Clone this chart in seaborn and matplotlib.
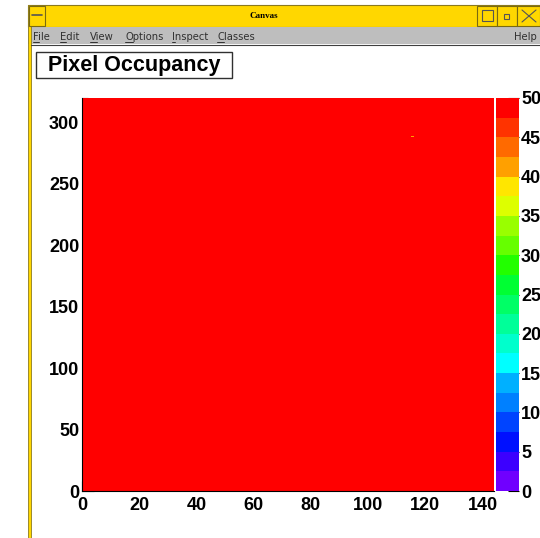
import matplotlib
matplotlib.use("Agg")
import matplotlib.pyplot as plt
import matplotlib.ticker as mticker
from matplotlib.colors import ListedColormap
from matplotlib.patches import Rectangle
from matplotlib.lines import Line2D
import numpy as np
import pandas as pd
import seaborn as sns

W, H = 540, 538

# detector geometry and occupancy
n_cols = 144
n_rows = 320
base_occupancy = 50.0
hot_col, hot_row, hot_value = 115, 288, 41.0

x_ticks = [0, 20, 40, 60, 80, 100, 120, 140]
y_ticks = [0, 50, 100, 150, 200, 250, 300]
z_ticks = [0, 5, 10, 15, 20, 25, 30, 35, 40, 45, 50]

# 20-step rainbow palette (ROOT style), bottom -> top
palette = [
    "#7000ff", "#3c00ff", "#0010ff", "#0044ff", "#0080ff",
    "#00b0ff", "#00ffff", "#00ffcc", "#00ff99", "#00ff66",
    "#00ff33", "#22ff00", "#66ff00", "#99ff00", "#ddff00",
    "#ffe600", "#ffa000", "#ff6a00", "#ff3300", "#ff0000",
]
menu_items = ["File", "Edit", "View", "Options", "Inspect", "Classes"]
menu_x = [33, 60, 90, 125, 172, 217]

FONT = "Liberation Sans"
MENU_SIZE = 7.2


def px_rect(x, y, w, h, **kw):
    return Rectangle((x / W, 1 - (y + h) / H), w / W, h / H,
                     transform=fig.transFigure, **kw)


def px_line(x0, y0, x1, y1, **kw):
    return Line2D([x0 / W, x1 / W], [1 - y0 / H, 1 - y1 / H],
                  transform=fig.transFigure, **kw)


sns.set_style("white")
plt.rcParams["font.family"] = [FONT, "DejaVu Sans"]
plt.rcParams["text.color"] = "black"
plt.rcParams["xtick.color"] = "black"
plt.rcParams["ytick.color"] = "black"

fig = plt.figure(figsize=(W / 100, H / 100), dpi=100)
fig.patch.set_facecolor("white")

# ---------------------------------------------------------------------------
# Window chrome
# ---------------------------------------------------------------------------
fig.patches.append(px_rect(28, 5, 520, 22, facecolor="#ffd700", edgecolor="#8a7a20", lw=0.8))
fig.patches.append(px_rect(28, 27, 520, 17, facecolor="#bebebe", edgecolor="none"))
fig.patches.append(px_rect(28, 5, 3, 540, facecolor="#ffd700", edgecolor="#8a7a20", lw=0.6))
fig.lines.append(px_line(31, 45, 540, 45, color="#404040", lw=0.8))
# title bar buttons
for bx, bw in [(29, 16), (477, 20), (497, 20), (517, 23)]:
    fig.patches.append(px_rect(bx, 6, bw, 20, facecolor="#ffd700", edgecolor="#7a6a10", lw=0.8))
fig.lines.append(px_line(32, 15, 42, 15, color="#555555", lw=1.2))
fig.patches.append(px_rect(482, 10, 11, 11, facecolor="none", edgecolor="#555555", lw=0.8))
fig.patches.append(px_rect(504, 14, 5, 5, facecolor="none", edgecolor="#555555", lw=0.8))
fig.lines.append(px_line(522, 10, 536, 22, color="#555555", lw=0.8))
fig.lines.append(px_line(522, 22, 536, 10, color="#555555", lw=0.8))
fig.text(264 / W, 1 - 16 / H, "Canvas", ha="center", va="center",
         fontsize=6.5, fontweight="bold", family=["Liberation Serif", "DejaVu Serif"])

renderer = fig.canvas.get_renderer()
for label, mx in zip(menu_items, menu_x):
    fig.text(mx / W, 1 - 37 / H, label, ha="left", va="center", fontsize=MENU_SIZE,
             family=["DejaVu Sans"], color="#303030")
    first = fig.text(mx / W, 1 - 37 / H, label[0], ha="left", va="center",
                     fontsize=MENU_SIZE, family=["DejaVu Sans"], alpha=0)
    bb = first.get_window_extent(renderer)
    fig.lines.append(px_line(bb.x0, 42, bb.x1, 42, color="#303030", lw=0.7))
fig.text(537 / W, 1 - 37 / H, "Help", ha="right", va="center", fontsize=MENU_SIZE,
         family=["DejaVu Sans"], color="#303030")

# title box
fig.patches.append(px_rect(36, 52, 196, 26, facecolor="white", edgecolor="#303030", lw=1.0))
fig.text(134 / W, 1 - 65.5 / H, "Pixel Occupancy", ha="center", va="center",
         fontsize=15.5, fontweight="bold")

# ---------------------------------------------------------------------------
# Heatmap
# ---------------------------------------------------------------------------
occupancy = np.full((n_rows, n_cols), base_occupancy)
occupancy[hot_row, hot_col] = hot_value
df = pd.DataFrame(occupancy)

ax = fig.add_axes([82 / W, 1 - 491 / H, (494 - 82) / W, (491 - 98) / H])
cax = fig.add_axes([496 / W, 1 - 491 / H, (519 - 496) / W, (491 - 98) / H])

sns.heatmap(df, ax=ax, cbar_ax=cax, cmap=ListedColormap(palette),
            vmin=0, vmax=50, xticklabels=False, yticklabels=False,
            linewidths=0, rasterized=True)
ax.invert_yaxis()
ax.set_xlim(0, n_cols)
ax.set_ylim(0, n_rows)

for side in ["left", "bottom"]:
    ax.spines[side].set_visible(True)
    ax.spines[side].set_color("black")
    ax.spines[side].set_linewidth(0.8)
for side in ["top", "right"]:
    ax.spines[side].set_visible(False)

ax.set_xticks(x_ticks)
ax.set_xticklabels([str(v) for v in x_ticks])
ax.set_yticks(y_ticks)
ax.set_yticklabels([str(v) for v in y_ticks])
ax.xaxis.set_minor_locator(mticker.MultipleLocator(5))
ax.yaxis.set_minor_locator(mticker.MultipleLocator(10))
ax.tick_params(axis="both", which="both", direction="in", color="black",
               labelcolor="black", width=0.8, bottom=True, left=True,
               top=False, right=False)
ax.tick_params(axis="x", which="major", length=7.5, pad=4)
ax.tick_params(axis="x", which="minor", length=3.8)
ax.tick_params(axis="y", which="major", length=8.5, pad=2)
ax.tick_params(axis="y", which="minor", length=4.5)
for lab in ax.get_xticklabels() + ax.get_yticklabels():
    lab.set_fontsize(13)
    lab.set_fontweight("bold")
    lab.set_rotation(0)
ax.set_xlabel("")
ax.set_ylabel("")

# colour scale
cbar = ax.collections[0].colorbar
cbar.outline.set_visible(False)
cbar.set_ticks(z_ticks)
cax.tick_params(direction="in", length=8, width=0.8, color="black",
                labelcolor="black", pad=1.5, right=True, labelright=True)
cax.yaxis.set_minor_locator(mticker.NullLocator())
for lab in cax.get_yticklabels():
    lab.set_fontsize(13)
    lab.set_fontweight("bold")

fig.savefig("out.png", dpi=100)
